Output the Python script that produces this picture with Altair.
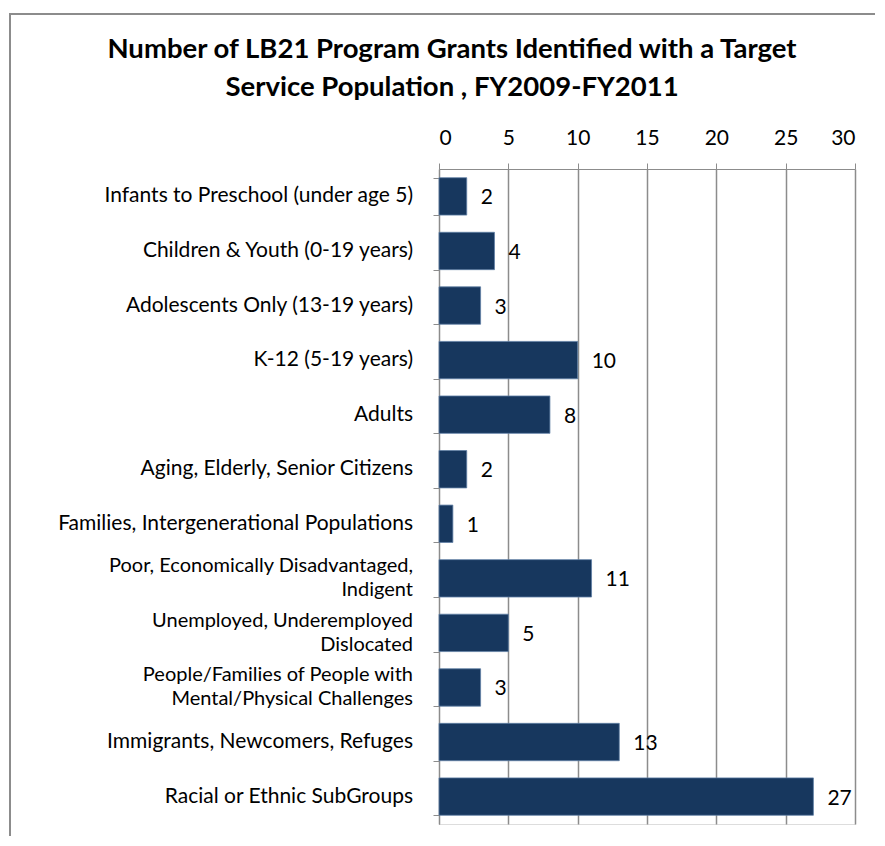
import altair as alt
import pandas as pd

categories = [
    "Infants to Preschool (under age 5)",
    "Children & Youth  (0-19 years)",
    "Adolescents Only (13-19 years)",
    "K-12 (5-19 years)",
    "Adults",
    "Aging, Elderly, Senior Citizens",
    "Families, Intergenerational Populations",
    "Poor, Economically  Disadvantaged,|Indigent",
    "Unemployed, Underemployed|Dislocated",
    "People/Families of People with|Mental/Physical Challenges",
    "Immigrants,  Newcomers, Refuges",
    "Racial or Ethnic SubGroups",
]
grants = [2, 4, 3, 10, 8, 2, 1, 11, 5, 3, 13, 27]
title_lines = [
    "Number of LB21 Program Grants Identified with a Target",
    "Service Population , FY2009-FY2011",
]

FONT = "Lato"
line1 = [c.split("|")[0] for c in categories]
line2 = [c.split("|")[1] if "|" in c else "" for c in categories]
df = pd.DataFrame({"category": categories, "grants": grants, "line1": line1, "line2": line2,
                   "multi": [l != "" for l in line2]})

y_enc = alt.Y(
    "category:N",
    sort=categories,
    scale=alt.Scale(domain=categories, paddingInner=0.315, paddingOuter=0.16),
    axis=alt.Axis(
        title=None,
        labels=False,
        tickBand="extent",
        tickSize=6,
        tickColor="#8c8c8c",
        domainColor="#8c8c8c",
        grid=False,
    ),
)
x_enc = alt.X(
    "grants:Q",
    scale=alt.Scale(domain=[0, 30], nice=False),
    axis=alt.Axis(
        orient="top",
        title=None,
        values=[0, 5, 10, 15, 20, 25, 30],
        labelFont=FONT,
        labelFontSize=21,
        labelColor="#000000",
        labelPadding=15,
        tickSize=6,
        tickColor="#8c8c8c",
        domainColor="#8c8c8c",
        grid=True,
        gridColor="#8c8c8c",
        gridWidth=1.5,
    ),
)
y_plain = alt.Y("category:N", sort=categories)

base = alt.Chart(df)
bars = base.mark_bar(color="#17375E", stroke="#5f7fa5", strokeWidth=0.8).encode(x=x_enc, y=y_enc)
values = base.mark_text(
    align="left", baseline="middle", dx=14, dy=2, font=FONT, fontSize=21, color="#000000"
).encode(x="grants:Q", y=y_plain, text="grants:Q")

single = base.transform_filter("!datum.multi").mark_text(
    align="right", baseline="middle", font=FONT, fontSize=21, color="#000000"
).encode(x=alt.value(-26), y=y_plain, text="line1:N")
multi_style = dict(align="right", baseline="middle", font=FONT, fontSize=20, color="#000000")
first = base.transform_filter("datum.multi").mark_text(dy=-12, **multi_style).encode(
    x=alt.value(-26), y=y_plain, text="line1:N")
second = base.transform_filter("datum.multi").mark_text(dy=12, **multi_style).encode(
    x=alt.value(-26), y=y_plain, text="line2:N")

t1 = alt.Chart(pd.DataFrame({"line": [title_lines[0]]})).mark_text(
    align="center", baseline="middle", font=FONT, fontSize=27.5, fontWeight="bold", color="#000000"
).encode(x=alt.value(13), y=alt.value(-119), text="line:N")
t2 = alt.Chart(pd.DataFrame({"line": [title_lines[1]]})).mark_text(
    align="center", baseline="middle", font=FONT, fontSize=27.5, fontWeight="bold", color="#000000"
).encode(x=alt.value(13), y=alt.value(-81), text="line:N")

border = alt.Chart(pd.DataFrame({"k": [0]})).mark_rect(
    fill=None, stroke="#8c8c8c", strokeWidth=2
).encode(x=alt.value(-429), x2=alt.value(470), y=alt.value(-155), y2=alt.value(700))

chart = alt.layer(border, bars, values, single, first, second, t1, t2).properties(
    width=416,
    height=655,
    autosize="none",
    padding={"left": 431, "top": 161, "right": 20, "bottom": 12},
).configure_view(stroke=None).configure(background="white")

chart.save("out.html", embed_options={"renderer": "svg", "actions": False})
